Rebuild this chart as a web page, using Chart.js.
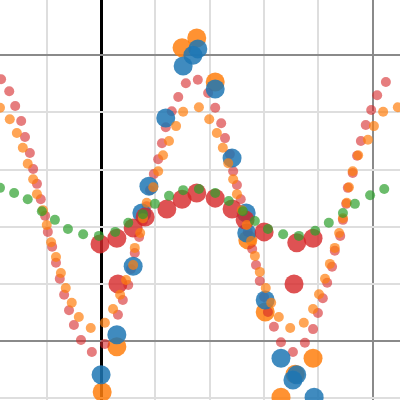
<!DOCTYPE html>
<html>
<head>
<meta charset="utf-8">
<script src="https://cdn.jsdelivr.net/npm/chart.js@4"></script>
<style>
html,body{margin:0;padding:0;background:#fff;}
#wrap{width:400px;height:400px;}
</style>
</head>
<body>
<div id="wrap"><canvas id="c" width="400" height="400"></canvas></div>
<script>
// Axis ranges and tick values
const xRange = [-1.86, 5.5];
const yRange = [-1.03, 5.965];
const xTicks = [-1, 0, 1, 2, 3, 4, 5];
const yTicks = [-1, 0, 1, 2, 3, 4, 5];

// Small red series [x, y]
const redSmall = [
[-1.84,4.58],[-1.69,4.37],[-1.58,4.11],[-1.47,3.85],[-1.40,3.57],[-1.31,3.29],[-1.25,3.01],[-1.18,2.75],
[-1.11,2.48],[-1.03,2.19],[-0.98,1.91],[-0.90,1.65],[-0.83,1.37],[-0.76,1.09],[-0.68,0.81],[-0.59,0.54],
[-0.50,0.28],[-0.37,0.02],[-0.17,-0.19],[0.07,-0.05],[0.31,0.46],[0.40,0.72],[0.50,0.98],[0.55,1.26],
[0.62,1.54],[0.70,1.82],[0.77,2.10],[0.84,2.36],[0.90,2.64],[0.97,2.92],[1.05,3.18],[1.12,3.46],
[1.19,3.74],[1.30,4.02],[1.42,4.27],[1.56,4.51],[1.78,4.57],[1.97,4.34],[2.10,4.08],[2.21,3.81],
[2.28,3.55],[2.37,3.27],[2.43,2.97],[2.50,2.73],[2.57,2.48],[2.65,2.19],[2.70,1.91],[2.78,1.61],
[2.85,1.33],[2.92,1.05],[3.00,0.77],[3.07,0.51],[3.18,0.25],[3.31,-0.02],[3.53,-0.19],[3.75,-0.03],
[3.90,0.21],[3.99,0.49],[4.08,0.75],[4.16,1.02],[4.25,1.30],[4.30,1.58],[4.40,1.84],[4.45,2.12],
[4.51,2.40],[4.54,2.68],[4.63,2.94],[4.71,3.24],[4.78,3.50],[4.87,3.78],[4.97,4.04],[5.08,4.30],[5.24,4.53]
];

// Small orange series [x, y]
const orangeSmall = [
[-1.86,4.08],[-1.68,3.88],[-1.55,3.64],[-1.44,3.38],[-1.35,3.10],[-1.25,2.83],[-1.18,2.57],[-1.07,2.29],
[-1.00,2.03],[-0.92,1.73],[-0.83,1.47],[-0.74,1.19],[-0.65,0.93],[-0.54,0.67],[-0.41,0.42],[-0.19,0.23],
[0.07,0.32],[0.22,0.56],[0.35,0.81],[0.46,1.07],[0.59,1.33],[0.62,1.63],[0.72,1.89],[0.77,2.15],
[0.84,2.42],[0.96,2.69],[1.05,2.97],[1.14,3.25],[1.25,3.50],[1.38,3.76],[1.51,4.01],[1.80,4.09],
[1.99,3.88],[2.13,3.64],[2.24,3.38],[2.34,3.11],[2.43,2.83],[2.50,2.57],[2.59,2.29],[2.68,2.03],
[2.76,1.75],[2.83,1.49],[2.92,1.21],[3.03,0.93],[3.13,0.67],[3.27,0.42],[3.48,0.23],[3.73,0.32],
[3.90,0.56],[4.01,0.82],[4.12,1.09],[4.21,1.35],[4.30,1.63],[4.38,1.89],[4.45,2.15],[4.52,2.42],
[4.56,2.69],[4.63,2.97],[4.73,3.25],[4.91,3.52],[5.02,3.76],[5.19,4.01],[5.46,4.09]
];

// Small green series [x, y]
const greenSmall = [
[-1.86,2.68],[-1.60,2.59],[-1.35,2.48],[-1.09,2.27],[-0.85,2.12],[-0.61,1.96],[-0.33,1.87],[-0.04,1.84],
[0.26,1.91],[0.50,2.07],[0.77,2.22],[0.99,2.40],[1.25,2.54],[1.51,2.64],[1.80,2.66],[2.10,2.59],
[2.35,2.45],[2.61,2.27],[2.83,2.10],[3.07,1.96],[3.35,1.87],[3.64,1.84],[3.94,1.93],[4.19,2.07],
[4.45,2.24],[4.67,2.40],[4.95,2.55],[5.21,2.66]
];

// Large blue series [x, y]
const blueLarge = [
[0.00,-0.59],[0.29,0.11],[0.59,1.31],[0.75,2.24],[0.88,2.71],[1.19,3.90],[1.51,4.81],[1.69,5.00],
[1.78,5.11],[2.10,4.41],[2.41,3.20],[2.67,2.24],[2.68,1.89],[3.02,0.72],[3.31,-0.30],[3.53,-0.68],
[3.60,-0.59],[3.92,-0.98]
];

// Large orange series [x, y]
const orangeLarge = [
[0.02,-0.89],[0.29,-0.10],[1.49,5.13],[1.76,5.30],[2.10,4.53],[2.70,1.77],[3.02,0.51],[3.31,-0.98],
[3.57,-0.58],[3.90,-0.30]
];

// Large red series [x, y]
const redLarge = [
[-0.02,1.70],[0.29,1.80],[0.31,1.00],[0.59,1.98],[0.81,2.17],[1.21,2.31],[1.49,2.48],[1.76,2.59],
[2.10,2.50],[2.41,2.31],[2.65,2.12],[3.00,1.91],[3.55,1.00],[3.60,1.72],[3.90,1.80]
];

const toPts = arr => arr.map(p => ({x: p[0], y: p[1]}));

function mkSet(data, color, r) {
  return {
    data: toPts(data),
    backgroundColor: color,
    borderWidth: 0,
    pointRadius: r,
    pointHoverRadius: r,
    pointBorderWidth: 0
  };
}

// dataset index 0 is drawn on top
const datasets = [
  mkSet(greenSmall, 'rgba(44,160,44,0.7)', 5),
  mkSet(orangeSmall, 'rgba(255,127,14,0.7)', 5),
  mkSet(redLarge, 'rgba(214,39,40,0.8)', 9.5),
  mkSet(blueLarge, 'rgba(31,119,180,0.85)', 9.5),
  mkSet(redSmall, 'rgba(214,39,40,0.6)', 5),
  mkSet(orangeLarge, 'rgba(255,127,14,0.85)', 9.5)
];

function tickFilter(list) {
  return axis => {
    axis.ticks = list.map(v => ({value: v}));
  };
}

new Chart(document.getElementById('c'), {
  type: 'scatter',
  data: { datasets },
  options: {
    responsive: false,
    animation: false,
    events: [],
    layout: { padding: 0, autoPadding: false },
    plugins: { legend: { display: false }, tooltip: { enabled: false } },
    scales: {
      x: {
        type: 'linear',
        min: xRange[0], max: xRange[1],
        afterBuildTicks: tickFilter(xTicks),
        ticks: { display: false },
        border: { display: false },
        grid: {
          drawTicks: false,
          color: c => c.tick.value === 0 ? '#000000' : (c.tick.value === 5 ? '#8a8a8a' : '#dedede'),
          lineWidth: c => c.tick.value === 0 ? 3 : 2
        }
      },
      y: {
        type: 'linear',
        min: yRange[0], max: yRange[1],
        afterBuildTicks: tickFilter(yTicks),
        ticks: { display: false },
        border: { display: false },
        grid: {
          drawTicks: false,
          color: c => (c.tick.value === 0 || c.tick.value === 5) ? '#8a8a8a' : '#dedede',
          lineWidth: 2
        }
      }
    }
  }
});
</script>
</body>
</html>
